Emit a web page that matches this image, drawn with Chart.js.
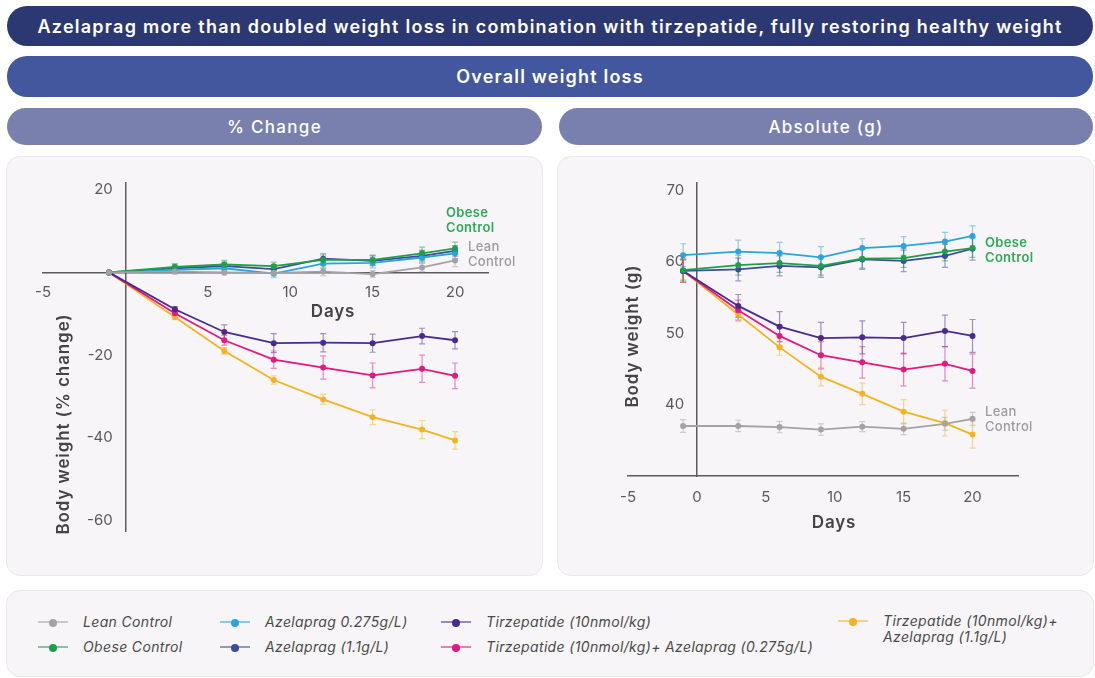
<!DOCTYPE html>
<html>
<head>
<meta charset="utf-8">
<script src="https://cdn.jsdelivr.net/npm/chart.js@4.4.1/dist/chart.umd.min.js"></script>
<style>
  html, body { margin:0; padding:0; background:#ffffff; }
  body { width:1095px; height:678px; position:relative; overflow:hidden; font-family: Inter, "Open Sans", sans-serif; }
  .bar { position:absolute; color:#fff; display:flex; align-items:center; justify-content:center; border-radius:20px; font-weight:600; white-space:nowrap; }
  .panel { position:absolute; background:#f7f5f7; border:1px solid #ebe8eb; border-radius:14px; box-sizing:border-box; }
  canvas { position:absolute; }
  .lg { position:absolute; font-style:italic; font-size:14px; letter-spacing:0.35px; color:#4a4a4a; line-height:16.5px; }
  .lg .mk { position:absolute; left:0; width:30px; height:2px; }
  .lg .dot { position:absolute; width:8px; height:8px; border-radius:50%; left:11px; top:-3px; }
  .lg .tx { position:absolute; white-space:nowrap; }
</style>
</head>
<body>
<div class="bar" style="left:7px;top:6px;width:1086px;height:40px;background:#2c3871;font-size:18px;letter-spacing:1.25px;">Azelaprag more than doubled weight loss in combination with tirzepatide, fully restoring healthy weight</div>
<div class="bar" style="left:7px;top:56px;width:1086px;height:41px;background:#43579f;font-size:18px;letter-spacing:1.2px;">Overall weight loss</div>
<div class="bar" style="left:7px;top:108px;width:535px;height:37px;background:#7a80ae;font-size:17px;font-weight:500;letter-spacing:1.3px;">% Change</div>
<div class="bar" style="left:559px;top:108px;width:534px;height:37px;background:#7a80ae;font-size:17px;font-weight:500;letter-spacing:1.3px;">Absolute (g)</div>
<div class="panel" style="left:6px;top:156px;width:537px;height:420px;"></div>
<div class="panel" style="left:557px;top:156px;width:537px;height:420px;"></div>
<div class="panel" style="left:6px;top:590px;width:1088px;height:87px;"></div>
<canvas id="pct" width="536" height="418" style="left:7px;top:157px;"></canvas>
<canvas id="abs" width="536" height="418" style="left:557px;top:157px;"></canvas>
<div id="legend"></div>
<script>
// ---------- DATA ----------
const days = [-1, 3, 6, 9, 12, 15, 18, 20];
const seriesNames = [
  'Lean Control',
  'Obese Control',
  'Azelaprag 0.275g/L)',
  'Azelaprag (1.1g/L)',
  'Tirzepatide (10nmol/kg)',
  'Tirzepatide (10nmol/kg)+ Azelaprag (0.275g/L)',
  'Tirzepatide (10nmol/kg)+ Azelaprag (1.1g/L)'
];
const seriesColors = ['#a3a3a3', '#1f9e4b', '#2ba4da', '#3b4c9d', '#4a2b8c', '#e2197e', '#f4b320'];

// % change from baseline
const pctLean    = [0, 0.2, 0.0, -0.1, 0.2, -0.4, 1.2, 2.9];
const pctObese   = [0, 1.3, 1.9, 1.5, 3.0, 3.0, 4.6, 5.8];
const pctAze275  = [0, 0.6, 1.0, -0.3, 2.1, 2.3, 3.6, 4.6];
const pctAze11   = [0, 1.0, 1.5, 0.8, 3.3, 2.8, 4.0, 5.2];
const pctTirz    = [0, -8.9, -14.4, -17.1, -17.0, -17.1, -15.4, -16.4];
const pctTirzA275= [0, -9.9, -16.4, -21.1, -23.0, -24.9, -23.3, -25.0];
const pctTirzA11 = [0, -10.8, -19.0, -26.0, -30.7, -35.0, -38.0, -40.6];

const pctLeanErr    = [0, 0.6, 0.6, 0.8, 1.0, 0.8, 1.0, 1.5];
const pctObeseErr   = [0, 0.8, 1.0, 1.0, 1.2, 1.2, 1.5, 1.5];
const pctAze275Err  = [0, 0.8, 1.0, 1.0, 1.2, 1.2, 1.3, 1.3];
const pctAze11Err   = [0, 0.8, 1.0, 1.0, 1.2, 1.2, 1.3, 1.3];
const pctTirzErr    = [0, 0.6, 1.7, 2.3, 2.2, 2.2, 1.9, 2.1];
const pctTirzA275Err= [0, 0.7, 1.2, 2.1, 2.8, 3.0, 3.3, 3.1];
const pctTirzA11Err = [0, 0.6, 0.8, 1.0, 1.2, 1.8, 2.2, 2.1];

// absolute body weight (g)
const absLean    = [37.0, 37.0, 36.85, 36.5, 36.9, 36.6, 37.3, 38.0];
const absObese   = [58.8, 59.5, 59.8, 59.4, 60.4, 60.5, 61.4, 61.9];
const absAze275  = [60.9, 61.4, 61.2, 60.6, 61.9, 62.2, 62.8, 63.6];
const absAze11   = [58.7, 58.9, 59.4, 59.2, 60.3, 60.1, 60.8, 61.8];
const absTirz    = [58.7, 53.8, 50.9, 49.3, 49.4, 49.3, 50.3, 49.6];
const absTirzA275= [58.7, 53.2, 49.6, 46.9, 45.9, 44.9, 45.7, 44.7];
const absTirzA11 = [58.7, 52.6, 48.0, 43.9, 41.5, 39.0, 37.4, 35.8];

const absLeanErr    = [0.9, 0.8, 0.8, 0.8, 0.7, 0.8, 0.9, 0.9];
const absObeseErr   = [1.4, 1.4, 1.3, 1.3, 1.3, 1.3, 1.3, 1.3];
const absAze275Err  = [1.6, 1.6, 1.5, 1.5, 1.3, 1.3, 1.3, 1.4];
const absAze11Err   = [1.6, 1.6, 1.4, 1.4, 1.4, 1.5, 1.6, 1.6];
const absTirzErr    = [1.6, 1.6, 2.1, 2.2, 2.3, 2.2, 2.2, 2.3];
const absTirzA275Err= [1.6, 1.4, 1.5, 1.9, 2.2, 2.3, 2.4, 2.4];
const absTirzA11Err = [1.6, 1.0, 1.1, 1.3, 1.5, 1.7, 1.8, 1.9];

// tick labels
const pctXTicks = [-5, 5, 10, 15, 20];
const pctYTicks = [20, -20, -40, -60];
const absXTicks = [-5, 0, 5, 10, 15, 20];
const absYTicks = [70, 60, 50, 40];

// ---------- HELPERS ----------
const FONT = 'Inter, "Open Sans", sans-serif';
function rgba(hex, a) {
  const n = parseInt(hex.slice(1), 16);
  return `rgba(${(n>>16)&255},${(n>>8)&255},${n&255},${a})`;
}
function makeDatasets(vals, errs) {
  return vals.map((v, i) => ({
    label: seriesNames[i],
    data: days.map((d, j) => ({x: d, y: v[j]})),
    errors: errs[i],
    borderColor: seriesColors[i],
    backgroundColor: seriesColors[i],
    pointBackgroundColor: seriesColors[i],
    pointBorderColor: seriesColors[i],
    pointRadius: 3,
    pointBorderWidth: 0,
    borderWidth: 1.8,
    tension: 0
  }));
}

const errorBars = {
  id: 'errorBars',
  beforeDatasetsDraw(chart) {
    const ctx = chart.ctx, ys = chart.scales.y;
    chart.data.datasets.forEach((ds, i) => {
      const meta = chart.getDatasetMeta(i);
      ctx.save();
      ctx.strokeStyle = rgba(ds.borderColor, 0.5);
      ctx.lineWidth = 1.2;
      meta.data.forEach((pt, j) => {
        const e = ds.errors[j];
        if (!e) return;
        const v = ds.data[j].y;
        const y1 = ys.getPixelForValue(v + e), y2 = ys.getPixelForValue(v - e);
        ctx.beginPath();
        ctx.moveTo(pt.x, y1); ctx.lineTo(pt.x, y2);
        ctx.moveTo(pt.x - 3, y1); ctx.lineTo(pt.x + 3, y1);
        ctx.moveTo(pt.x - 3, y2); ctx.lineTo(pt.x + 3, y2);
        ctx.stroke();
      });
      ctx.restore();
    });
  }
};

const panelText = {
  id: 'panelText',
  afterDraw(chart, args, opts) {
    const ctx = chart.ctx;
    (opts.items || []).forEach(it => {
      ctx.save();
      ctx.font = it.font;
      ctx.fillStyle = it.color;
      ctx.textAlign = it.align || 'left';
      ctx.textBaseline = 'middle';
      if ('letterSpacing' in ctx) ctx.letterSpacing = (it.ls || 0) + 'px';
      ctx.translate(it.x, it.y);
      if (it.rot) ctx.rotate(it.rot);
      ctx.fillText(it.text, 0, 0);
      ctx.restore();
    });
  }
};

function axisCommon(ticksArr, pad, yAxis) {
  return {
    type: 'linear',
    grid: { display: false, drawTicks: false },
    border: { display: true, color: '#5c5c5c', width: 1.5 },
    afterBuildTicks: s => { s.ticks = ticksArr.map(v => ({value: v})); },
    ticks: {
      color: '#5a5a5a',
      font: { family: FONT, size: 15 },
      padding: pad,
      autoSkip: false,
      maxRotation: 0,
      callback: v => yAxis ? (v + '   ') : String(v)
    }
  };
}

const titleFont = '600 17px ' + FONT;
const annFont = '600 13px ' + FONT;
const leanFont = '500 13px ' + FONT;

new Chart(document.getElementById('pct'), {
  type: 'line',
  data: { datasets: makeDatasets(
    [pctLean, pctObese, pctAze275, pctAze11, pctTirz, pctTirzA275, pctTirzA11],
    [pctLeanErr, pctObeseErr, pctAze275Err, pctAze11Err, pctTirzErr, pctTirzA275Err, pctTirzA11Err]) },
  options: {
    responsive: false, animation: false, events: [],
    layout: { padding: { left: 36, right: 55, top: 26, bottom: 44 } },
    scales: {
      x: Object.assign(axisCommon(pctXTicks, 11, false), { min: -5, max: 22, position: { y: 0 } }),
      y: Object.assign(axisCommon(pctYTicks, 0, true), { min: -62.5, max: 21.6, position: { x: 0 } })
    },
    plugins: {
      legend: { display: false }, tooltip: { enabled: false },
      panelText: { items: [
        { text: 'Days', x: 326, y: 155, font: titleFont, color: '#444', align: 'center', ls: 0.8 },
        { text: 'Body weight (% change)', x: 57, y: 267, font: titleFont, color: '#444', align: 'center', rot: -Math.PI/2, ls: 0.9 },
        { text: 'Obese', x: 439, y: 56, font: annFont, color: '#2ea955', ls: 0.3 },
        { text: 'Control', x: 439, y: 71, font: annFont, color: '#2ea955', ls: 0.3 },
        { text: 'Lean', x: 461, y: 90, font: leanFont, color: '#9b9b9b', ls: 0.3 },
        { text: 'Control', x: 461, y: 105, font: leanFont, color: '#9b9b9b', ls: 0.3 }
      ] }
    }
  },
  plugins: [errorBars, panelText]
});

new Chart(document.getElementById('abs'), {
  type: 'line',
  data: { datasets: makeDatasets(
    [absLean, absObese, absAze275, absAze11, absTirz, absTirzA275, absTirzA11],
    [absLeanErr, absObeseErr, absAze275Err, absAze11Err, absTirzErr, absTirzA275Err, absTirzA11Err]) },
  options: {
    responsive: false, animation: false, events: [],
    layout: { padding: { left: 71, right: 75, top: 26, bottom: 99 } },
    scales: {
      x: Object.assign(axisCommon(absXTicks, 12, false), { min: -5, max: 23.3, position: { y: 30 } }),
      y: Object.assign(axisCommon(absYTicks, 0, true), { min: 30, max: 71, position: { x: 0 } })
    },
    plugins: {
      legend: { display: false }, tooltip: { enabled: false },
      panelText: { items: [
        { text: 'Days', x: 277, y: 366, font: titleFont, color: '#444', align: 'center', ls: 0.8 },
        { text: 'Body weight (g)', x: 75.5, y: 179, font: titleFont, color: '#444', align: 'center', rot: -Math.PI/2, ls: 0.9 },
        { text: 'Obese', x: 428, y: 86, font: annFont, color: '#2ea955', ls: 0.3 },
        { text: 'Control', x: 428, y: 101, font: annFont, color: '#2ea955', ls: 0.3 },
        { text: 'Lean', x: 428, y: 255, font: leanFont, color: '#9b9b9b', ls: 0.3 },
        { text: 'Control', x: 428, y: 270, font: leanFont, color: '#9b9b9b', ls: 0.3 }
      ] }
    }
  },
  plugins: [errorBars, panelText]
});

// ---------- LEGEND (HTML) ----------
const legendSlots = [
  { left: 38, top: 622 }, { left: 38, top: 647 },
  { left: 220, top: 622 }, { left: 220, top: 647 },
  { left: 441, top: 622 }, { left: 441, top: 647 },
  { left: 838, top: 621 }
];
const legendText = seriesNames.slice();
legendText[6] = 'Tirzepatide (10nmol/kg)+<br>Azelaprag (1.1g/L)';
const lg = document.getElementById('legend');
legendSlots.forEach((s, i) => {
  const d = document.createElement('div');
  d.className = 'lg';
  d.style.left = s.left + 'px';
  d.style.top = s.top + 'px';
  d.innerHTML =
    `<div class="mk" style="background:${rgba(seriesColors[i],0.55)};top:-1px;"></div>` +
    `<div class="dot" style="background:${seriesColors[i]};"></div>` +
    `<div class="tx" style="left:45px;top:-8.5px;">${legendText[i]}</div>`;
  lg.appendChild(d);
});
</script>
</body>
</html>
